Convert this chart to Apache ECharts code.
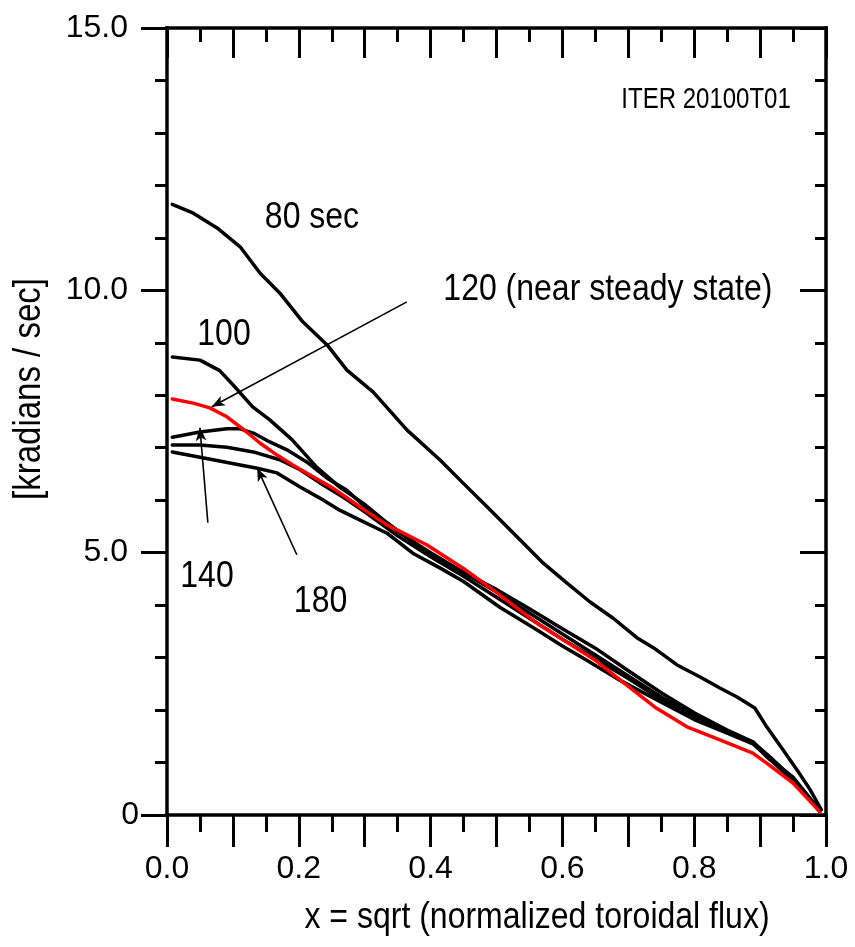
<!DOCTYPE html>
<html>
<head>
<meta charset="utf-8">
<script src="https://cdn.jsdelivr.net/npm/echarts/dist/echarts.min.js"></script>
<style>html,body{margin:0;padding:0;background:#fff}#c{width:855px;height:947px}</style>
</head>
<body>
<div id="c"></div>
<script>
// ---- data ----
const x80  = [0.008,0.04,0.076,0.111,0.141,0.171,0.206,0.243,0.273,0.313,0.364,0.414,0.449,0.486,0.536,0.571,0.607,0.642,0.677,0.713,0.738,0.774,0.809,0.839,0.865,0.892,0.91,0.935,0.956,0.976,0.993];
const y80  = [11.64,11.47,11.19,10.83,10.33,9.95,9.40,8.96,8.48,8.06,7.34,6.77,6.33,5.87,5.24,4.80,4.42,4.06,3.75,3.38,3.19,2.86,2.63,2.42,2.25,2.04,1.68,1.24,0.86,0.48,0.10];
const x100 = [0.008,0.05,0.08,0.1,0.13,0.156,0.19,0.227,0.262,0.298,0.334,0.384,0.45,0.5,0.55,0.6,0.65,0.7,0.75,0.8,0.85,0.89,0.91,0.95,0.99];
const y100 = [8.73,8.67,8.47,8.2,7.78,7.53,7.15,6.63,6.25,5.94,5.57,5.11,4.62,4.3,3.93,3.55,3.18,2.75,2.33,1.95,1.62,1.39,1.11,0.72,0.1];
const x120 = [0.008,0.04,0.065,0.091,0.121,0.141,0.167,0.191,0.217,0.252,0.293,0.334,0.394,0.45,0.495,0.561,0.6,0.65,0.69,0.74,0.789,0.839,0.889,0.91,0.95,0.991];
const y120 = [7.93,7.85,7.76,7.59,7.30,7.09,6.86,6.67,6.48,6.23,5.87,5.53,5.15,4.7,4.29,3.66,3.35,2.95,2.55,2.06,1.68,1.43,1.18,0.99,0.61,0.06];
const x140 = [0.008,0.05,0.091,0.111,0.131,0.156,0.182,0.212,0.243,0.273,0.3,0.35,0.4,0.45,0.5,0.55,0.6,0.65,0.7,0.75,0.8,0.85,0.89,0.92,0.95,0.99];
const y140 = [7.20,7.30,7.36,7.36,7.28,7.11,6.96,6.73,6.42,6.19,5.88,5.4,5.0,4.62,4.25,3.85,3.45,3.05,2.65,2.25,1.9,1.6,1.38,1.05,0.7,0.08];
const x160 = [0.008,0.05,0.091,0.131,0.171,0.202,0.232,0.267,0.3,0.35,0.4,0.45,0.5,0.55,0.6,0.65,0.7,0.75,0.8,0.85,0.89,0.92,0.95,0.99];
const y160 = [7.05,7.05,7.01,6.92,6.77,6.58,6.33,6.06,5.78,5.32,4.92,4.55,4.15,3.75,3.35,2.98,2.6,2.2,1.85,1.58,1.36,1.02,0.68,0.08];
const x180 = [0.008,0.05,0.07,0.111,0.137,0.167,0.202,0.232,0.262,0.293,0.334,0.373,0.414,0.45,0.505,0.561,0.6,0.637,0.687,0.75,0.8,0.85,0.89,0.92,0.95,0.99];
const y180 = [6.92,6.82,6.77,6.67,6.61,6.52,6.25,6.04,5.81,5.62,5.37,4.99,4.71,4.45,3.96,3.53,3.22,2.95,2.57,2.15,1.82,1.56,1.35,1.0,0.66,0.08];

// annotation texts and their anchor points (data coordinates)
const annoText = ['80 sec','120 (near steady state)','100','140','180'];
const annoX    = [0.22, 0.669, 0.0865, 0.0607, 0.233];
const annoY    = [11.38, 10.0, 9.15, 4.53, 4.06];
const tagText  = 'ITER 20100T01';
const tagX = 0.818, tagY = 13.63;

// arrows: tail and head points in data coordinates
const arrowTail = [[0.364, 9.78], [0.062, 5.57], [0.197, 4.96]];
const arrowHead = [[0.068, 7.78], [0.05, 7.38], [0.137, 6.61]];

const xTicks = [0, 0.2, 0.4, 0.6, 0.8, 1.0];
const yTicks = [0, 5, 10, 15];

// ---- chart ----
const FONT = '"Liberation Sans", Arial, sans-serif';
const zip = (xs, ys) => xs.map((x, i) => [x, ys[i]]);
const chart = echarts.init(document.getElementById('c'), null, {renderer: 'canvas'});

function curve(name, xs, ys, color) {
  return {
    name, type: 'line', data: zip(xs, ys), showSymbol: false, smooth: false,
    xAxisIndex: 0, yAxisIndex: 0, silent: true,
    lineStyle: {color, width: 3.5, cap: 'round', join: 'round'},
    z: color === '#000' ? 3 : 4
  };
}

const AXW = 3.5;
const axisLineStyle = {show: true, onZero: false, lineStyle: {color: '#000', width: AXW, cap: 'square'}};
const tickStyle = {color: '#000', width: 3};

const option = {
  animation: false,
  backgroundColor: '#fff',
  grid: {left: 167, right: 29, top: 28, bottom: 132, containLabel: false},
  xAxis: [
    {
      type: 'value', position: 'bottom', min: 0, max: 1, interval: 0.1,
      axisLine: axisLineStyle,
      axisTick: {show: true, inside: false, length: 32, lineStyle: tickStyle},
      minorTick: {show: true, splitNumber: 2, length: 17, lineStyle: tickStyle},
      splitLine: {show: false}, minorSplitLine: {show: false},
      axisLabel: {
        show: true, margin: 38, color: '#000', fontFamily: FONT, fontSize: 32,
        formatter: v => xTicks.some(t => Math.abs(t - v) < 1e-6) ? v.toFixed(1) : ''
      }
    },
    {
      type: 'value', position: 'top', min: 0, max: 1, interval: 0.1,
      axisLine: axisLineStyle,
      axisTick: {show: true, inside: true, length: 30, lineStyle: tickStyle},
      minorTick: {show: true, splitNumber: 2, length: 14, lineStyle: tickStyle},
      splitLine: {show: false}, minorSplitLine: {show: false}, axisLabel: {show: false}
    }
  ],
  yAxis: [
    {
      type: 'value', position: 'left', min: 0, max: 15, interval: 5,
      axisLine: axisLineStyle,
      axisTick: {show: true, inside: false, length: 26, lineStyle: tickStyle},
      minorTick: {show: true, splitNumber: 5, length: 12, lineStyle: tickStyle},
      splitLine: {show: false}, minorSplitLine: {show: false},
      axisLabel: {
        show: true, margin: 39, color: '#000', fontFamily: FONT, fontSize: 32,
        formatter: v => (v !== 0 && yTicks.indexOf(v) >= 0) ? v.toFixed(1) : ''
      }
    },
    {
      type: 'value', position: 'right', min: 0, max: 15, interval: 5,
      axisLine: axisLineStyle,
      axisTick: {show: true, inside: true, length: 26, lineStyle: tickStyle},
      minorTick: {show: true, splitNumber: 5, length: 11, lineStyle: tickStyle},
      splitLine: {show: false}, minorSplitLine: {show: false}, axisLabel: {show: false}
    },
    {
      type: 'value', position: 'left', min: 0, max: 15, interval: 15,
      axisLine: {show: false, onZero: false}, axisTick: {show: false}, splitLine: {show: false},
      axisLabel: {
        show: true, margin: 28, color: '#000', fontFamily: FONT, fontSize: 32,
        formatter: v => v === 0 ? '0' : ''
      }
    }
  ],
  series: [
    curve('80 sec', x80, y80, '#000'),
    curve('100', x100, y100, '#000'),
    curve('140', x140, y140, '#000'),
    curve('160', x160, y160, '#000'),
    curve('180', x180, y180, '#000'),
    curve('120', x120, y120, '#ff0000'),
    {
      name: 'arrows', type: 'line', data: [], xAxisIndex: 0, yAxisIndex: 0, silent: true, z: 6,
      markLine: {
        silent: true, animation: false,
        symbol: ['none', 'arrow'], symbolSize: [8, 13],
        label: {show: false},
        lineStyle: {color: '#000', width: 1.6, type: 'solid'},
        emphasis: {disabled: true},
        data: arrowTail.map((t, i) => [{coord: t}, {coord: arrowHead[i]}])
      }
    }
  ]
};
chart.setOption(option);

// text annotations placed through the chart's own scales
const toPx = p => chart.convertToPixel({xAxisIndex: 0, yAxisIndex: 0}, p);
const g = [];
annoText.forEach((t, i) => {
  const p = toPx([annoX[i], annoY[i]]);
  g.push({type: 'text', x: p[0], y: p[1], scaleY: 1.15, silent: true, z: 10,
    style: {text: t, font: '32px ' + FONT, fill: '#000', align: 'center', verticalAlign: 'middle'}});
});
const tp = toPx([tagX, tagY]);
g.push({type: 'text', x: tp[0], y: tp[1], scaleY: 1.25, silent: true, z: 10,
  style: {text: tagText, font: '24px ' + FONT, fill: '#000', align: 'center', verticalAlign: 'middle'}});
// axis titles
g.push({type: 'text', x: 537, y: 918, scaleY: 1.15, silent: true,
  style: {text: 'x = sqrt (normalized toroidal flux)', font: '32px ' + FONT, fill: '#000', align: 'center', verticalAlign: 'middle'}});
g.push({type: 'text', x: 30, y: 389, rotation: Math.PI / 2, scaleY: 1.15, silent: true,
  style: {text: '[kradians / sec]', font: '33px ' + FONT, fill: '#000', align: 'center', verticalAlign: 'middle'}});
chart.setOption({graphic: g});
</script>
</body>
</html>
